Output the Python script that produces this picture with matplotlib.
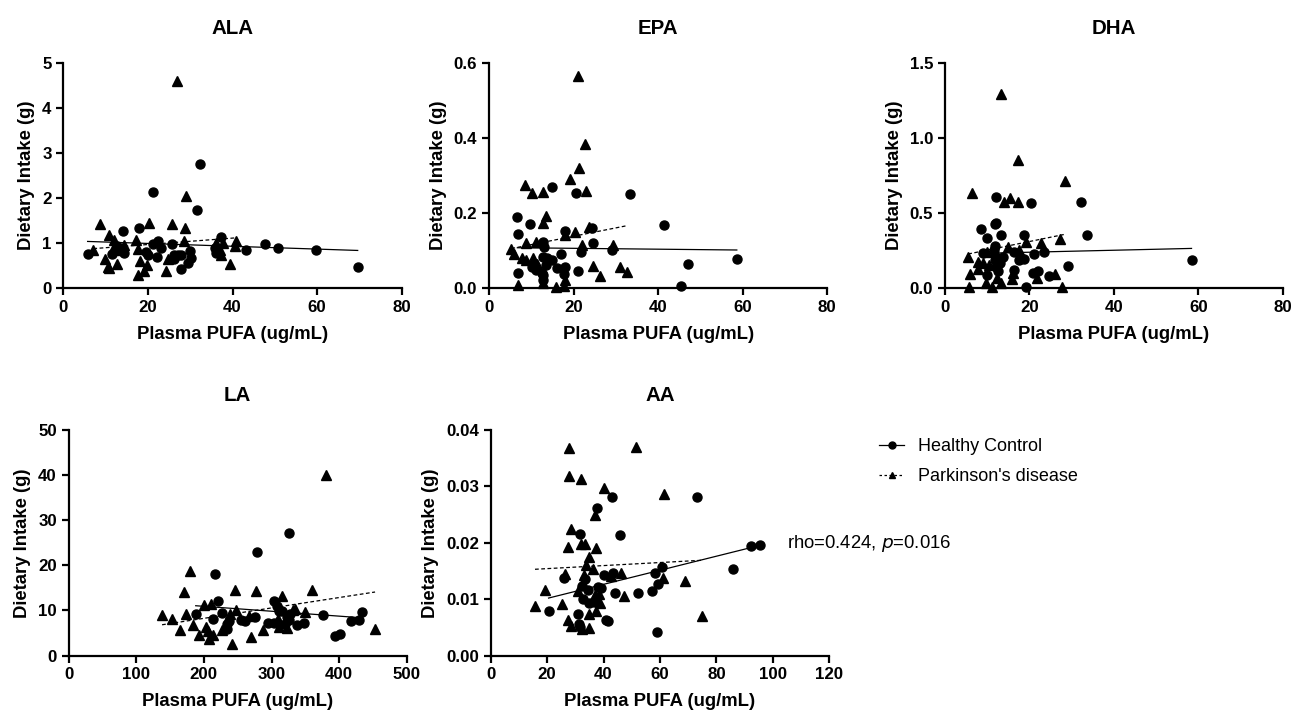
import matplotlib
matplotlib.use("Agg")
import matplotlib.pyplot as plt
import numpy as np
from matplotlib.lines import Line2D

plt.rcParams['font.family'] = ['Liberation Sans', 'DejaVu Sans']

# ---------------- data ----------------
panels = ["ALA", "EPA", "DHA", "LA", "AA"]

ala_hc_x = [5.75, 14.0, 18.0, 21.2, 32.2, 31.6, 11.4, 14.4, 19.5, 20.0, 21.2, 22.5, 22.1, 23.1, 25.8, 26.1,
            26.2, 27.0, 27.8, 27.8, 29.9, 30.1, 29.4, 35.9, 36.1, 37.3, 43.2, 47.8, 50.8, 59.7, 69.6, 12.6]
ala_hc_y = [0.76, 1.27, 1.34, 2.14, 2.76, 1.74, 0.76, 0.79, 0.80, 0.73, 0.98, 1.05, 0.69, 0.89, 0.98, 0.73,
            0.64, 0.73, 0.74, 0.42, 0.83, 0.68, 0.56, 0.89, 0.78, 1.13, 0.84, 0.99, 0.89, 0.84, 0.47, 0.93]
ala_pd_x = [8.7, 7.1, 10.7, 12.1, 12.2, 9.9, 10.5, 10.8, 12.7, 13.2, 14.4, 17.3, 17.6, 17.6, 18.2, 19.1,
            19.7, 20.3, 24.3, 24.8, 25.7, 26.8, 29.0, 28.8, 28.6, 37.0, 37.3, 37.7, 39.4, 40.7, 40.9, 36.2]
ala_pd_y = [1.43, 0.84, 1.18, 1.07, 0.96, 0.64, 0.48, 0.44, 0.53, 0.84, 0.96, 1.07, 0.87, 0.29, 0.61, 0.38,
            0.52, 1.45, 0.38, 0.64, 1.43, 4.60, 2.04, 1.33, 1.04, 0.84, 0.73, 1.01, 0.53, 0.93, 1.06, 1.00]

epa_hc_x = [6.7, 6.9, 6.9, 9.6, 14.9, 20.5, 33.4, 41.3, 12.8, 12.9, 12.8, 13.5, 13.6, 14.9, 10.2, 11.0,
            12.5, 12.8, 12.8, 16.1, 17.1, 17.8, 18.0, 18.0, 21.1, 21.7, 24.4, 24.7, 29.2, 47.1, 45.3, 58.6]
epa_hc_y = [0.190, 0.144, 0.040, 0.172, 0.269, 0.253, 0.250, 0.168, 0.122, 0.110, 0.084, 0.062, 0.080, 0.076,
            0.056, 0.050, 0.040, 0.036, 0.022, 0.053, 0.092, 0.038, 0.056, 0.152, 0.046, 0.097, 0.161, 0.120,
            0.103, 0.064, 0.006, 0.078]
epa_pd_x = [5.3, 6.0, 6.9, 8.6, 8.7, 7.9, 8.7, 10.2, 10.5, 11.0, 11.3, 12.8, 13.5, 12.7, 12.8, 15.8,
            18.0, 17.7, 18.0, 19.1, 20.3, 21.0, 21.3, 22.6, 22.9, 22.0, 23.6, 24.6, 26.2, 29.4, 31.0, 32.6]
epa_pd_y = [0.105, 0.091, 0.009, 0.274, 0.120, 0.080, 0.075, 0.254, 0.082, 0.124, 0.066, 0.257, 0.192, 0.173,
            0.015, 0.003, 0.142, 0.006, 0.022, 0.292, 0.151, 0.566, 0.321, 0.383, 0.260, 0.114, 0.164, 0.060,
            0.034, 0.114, 0.058, 0.044]

dha_hc_x = [8.5, 9.9, 9.9, 9.1, 12.2, 11.9, 12.2, 11.8, 11.7, 11.8, 12.2, 12.5, 13.0, 13.3, 13.8, 16.4,
            16.4, 17.5, 18.8, 18.8, 19.2, 20.4, 21.2, 20.9, 22.1, 23.5, 24.6, 29.2, 32.1, 33.6, 58.4]
dha_hc_y = [0.392, 0.337, 0.089, 0.233, 0.605, 0.428, 0.432, 0.284, 0.255, 0.188, 0.144, 0.115, 0.166, 0.357,
            0.210, 0.122, 0.244, 0.188, 0.193, 0.355, 0.007, 0.570, 0.226, 0.104, 0.117, 0.244, 0.082, 0.148,
            0.572, 0.355, 0.186]
dha_pd_x = [6.3, 5.5, 5.9, 5.6, 7.7, 7.8, 9.1, 9.9, 10.5, 9.7, 11.1, 11.8, 12.4, 13.3, 13.3, 14.0,
            15.5, 15.0, 15.9, 16.2, 17.2, 17.2, 17.5, 19.1, 21.9, 22.7, 26.1, 27.3, 27.7, 28.4]
dha_pd_y = [0.632, 0.211, 0.093, 0.011, 0.177, 0.126, 0.166, 0.244, 0.155, 0.033, 0.011, 0.248, 0.071, 1.292,
            0.033, 0.572, 0.603, 0.273, 0.060, 0.100, 0.853, 0.572, 0.255, 0.306, 0.066, 0.304, 0.095, 0.326,
            0.011, 0.714]

la_hc_x = [187.9, 216.5, 221.4, 214.0, 227.3, 234.7, 237.7, 234.0, 255.4, 260.9, 275.6, 278.1, 294.4, 303.7,
           303.7, 308.7, 311.6, 315.1, 320.5, 323.5, 325.4, 326.4, 327.4, 338.3, 348.6, 376.7, 394.0, 401.4,
           417.2, 430.0, 433.4]
la_hc_y = [9.26, 18.0, 12.07, 8.07, 9.41, 7.04, 7.63, 5.93, 7.93, 7.56, 8.52, 22.96, 7.26, 7.26, 12.07, 10.96,
           9.85, 9.85, 7.04, 8.52, 27.18, 7.93, 9.26, 6.81, 7.19, 9.04, 4.22, 4.67, 7.70, 7.78, 9.63]
la_pd_x = [138.1, 152.4, 171.1, 173.6, 165.2, 180.0, 183.4, 193.3, 200.7, 203.2, 206.1, 208.1, 213.0, 210.6,
           226.3, 238.7, 241.7, 246.1, 247.5, 267.3, 269.2, 277.6, 288.0, 309.7, 310.6, 315.6, 322.5, 332.4,
           334.3, 349.6, 360.5, 380.2, 453.2]
la_pd_y = [8.89, 8.07, 14.07, 9.26, 5.56, 18.74, 6.67, 4.59, 11.19, 6.30, 5.48, 3.63, 4.44, 11.41, 5.70, 9.26,
           2.59, 14.59, 10.00, 8.81, 4.07, 14.30, 5.70, 8.15, 6.30, 13.11, 6.07, 10.0, 10.37, 9.56, 14.59, 39.93,
           5.93]

aa_hc_x = [20.5, 25.9, 31.7, 32.3, 32.7, 31.1, 31.2, 31.6, 33.4, 34.5, 35.0, 36.5, 37.8, 37.9, 39.1, 40.1,
           40.7, 41.4, 43.1, 43.5, 44.0, 45.9, 52.1, 57.1, 58.4, 59.2, 58.9, 60.8, 73.2, 85.9, 92.1, 95.6]
aa_hc_y = [0.00788, 0.01381, 0.02157, 0.01233, 0.01001, 0.00729, 0.00563, 0.00504, 0.01363, 0.01156, 0.00930,
           0.00942, 0.02619, 0.01215, 0.01203, 0.01422, 0.00634, 0.00610, 0.02803, 0.01464, 0.01114, 0.02139,
           0.01114, 0.01144, 0.01470, 0.01262, 0.00409, 0.01570, 0.02803, 0.01541, 0.01938, 0.01967]
aa_pd_x = [15.7, 19.2, 25.2, 26.3, 27.4, 27.7, 27.8, 27.5, 28.3, 28.5, 30.8, 32.0, 32.0, 33.5, 32.2, 33.1,
           33.9, 34.8, 34.8, 34.9, 36.2, 36.8, 37.0, 37.2, 37.2, 38.4, 38.7, 40.0, 42.5, 46.2, 47.1, 51.4,
           61.0, 61.3, 68.9, 75.0]
aa_pd_y = [0.00871, 0.01156, 0.00918, 0.01452, 0.01926, 0.03686, 0.03182, 0.00622, 0.00521, 0.02246, 0.01144,
           0.03129, 0.01985, 0.01973, 0.00462, 0.01422, 0.01600, 0.00741, 0.00492, 0.01748, 0.01529, 0.01067,
           0.02489, 0.01908, 0.00788, 0.01096, 0.00936, 0.02969, 0.01404, 0.01470, 0.01061, 0.03704, 0.01381,
           0.02856, 0.01321, 0.00699]

# regression (intercept, slope)
hc_fit = {"ALA": [1.058, -0.00313], "EPA": [0.1088, -0.000116], "DHA": [0.227, 0.00066],
          "LA": [13.08, -0.01088], "AA": [0.00763, 0.0001248]}
pd_fit = {"ALA": [0.83, 0.0071], "EPA": [0.094, 0.00223], "DHA": [0.197, 0.00572],
          "LA": [3.63, 0.02305], "AA": [0.01487, 0.0000270]}

x_ticks = {"ALA": [0, 20, 40, 60, 80], "EPA": [0, 20, 40, 60, 80], "DHA": [0, 20, 40, 60, 80],
           "LA": [0, 100, 200, 300, 400, 500], "AA": [0, 20, 40, 60, 80, 100, 120]}
y_ticks = {"ALA": [0, 1, 2, 3, 4, 5], "EPA": [0.0, 0.2, 0.4, 0.6], "DHA": [0.0, 0.5, 1.0, 1.5],
           "LA": [0, 10, 20, 30, 40, 50], "AA": [0.00, 0.01, 0.02, 0.03, 0.04]}
y_fmt = {"ALA": "{:.0f}", "EPA": "{:.1f}", "DHA": "{:.1f}", "LA": "{:.0f}", "AA": "{:.2f}"}

data = {
    "ALA": (ala_hc_x, ala_hc_y, ala_pd_x, ala_pd_y),
    "EPA": (epa_hc_x, epa_hc_y, epa_pd_x, epa_pd_y),
    "DHA": (dha_hc_x, dha_hc_y, dha_pd_x, dha_pd_y),
    "LA": (la_hc_x, la_hc_y, la_pd_x, la_pd_y),
    "AA": (aa_hc_x, aa_hc_y, aa_pd_x, aa_pd_y),
}

legend_labels = ["Healthy Control", "Parkinson's disease"]
x_label = "Plasma PUFA (ug/mL)"
y_label = "Dietary Intake (g)"
stat_text = "rho=0.424, $\\it{p}$=0.016"

# ---------------- figure ----------------
W, H = 1292, 714
fig = plt.figure(figsize=(W / 100, H / 100), dpi=100)

# pixel boxes: left, top, right, bottom
boxes = {
    "ALA": (63.3, 63, 401.7, 288.3),
    "EPA": (489, 63, 827.3, 288.3),
    "DHA": (945, 63, 1282.7, 288.3),
    "LA": (68.7, 430, 406.7, 655.5),
    "AA": (490.7, 430, 829.3, 655.5),
}

for name in panels:
    l, t, r, b = boxes[name]
    ax = fig.add_axes([l / W, 1 - b / H, (r - l) / W, (b - t) / H])
    hx, hy, px, py = data[name]
    ax.plot(hx, hy, linestyle='none', marker='o', ms=6.5, color='black', clip_on=False, zorder=3)
    ax.plot(px, py, linestyle='none', marker='^', ms=7, color='black', clip_on=False, zorder=3)
    xs = np.array([min(hx), max(hx)])
    ax.plot(xs, hc_fit[name][0] + hc_fit[name][1] * xs, color='black', lw=0.9, zorder=2)
    xs = np.array([min(px), max(px)])
    ax.plot(xs, pd_fit[name][0] + pd_fit[name][1] * xs, color='black', lw=0.9,
            linestyle=(0, (3, 2)), zorder=2)

    xt = x_ticks[name]
    yt = y_ticks[name]
    ax.set_xlim(xt[0], xt[-1])
    ax.set_ylim(yt[0], yt[-1])
    ax.set_xticks(xt)
    ax.set_xticklabels([str(v) for v in xt])
    ax.set_yticks(yt)
    ax.set_yticklabels([y_fmt[name].format(v) for v in yt])
    for s in ['top', 'right']:
        ax.spines[s].set_visible(False)
    for s in ['left', 'bottom']:
        ax.spines[s].set_linewidth(1.6)
    ax.tick_params(direction='out', length=5, width=1.6, labelsize=12.2, pad=3.5)
    for lab in ax.get_xticklabels() + ax.get_yticklabels():
        lab.set_fontweight('bold')
    ax.set_xlabel(x_label, fontsize=13.3, fontweight='bold', labelpad=8)
    ax.set_ylabel(y_label, fontsize=13.3, fontweight='bold', labelpad=5)
    ax.set_title(name, fontsize=14.8, fontweight='bold', pad=21)
    ax.patch.set_visible(False)

    if name == "AA":
        ax.text((786.7 - l) / (r - l), (b - 544) / (b - t), stat_text, transform=ax.transAxes,
                fontsize=13.3, va='center', ha='left')

handles = [Line2D([], [], color='black', lw=0.9, marker='o', ms=5),
           Line2D([], [], color='black', lw=0.9, linestyle=(0, (2, 2)), marker='^', ms=5)]
fig.legend(handles, legend_labels, loc='upper left', bbox_to_anchor=(879 / W, 1 - 438 / H),
           frameon=False, fontsize=13, handlelength=1.4, handletextpad=0.75, labelspacing=0.72,
           borderaxespad=0, borderpad=0)

fig.savefig("out.png", dpi=100)
